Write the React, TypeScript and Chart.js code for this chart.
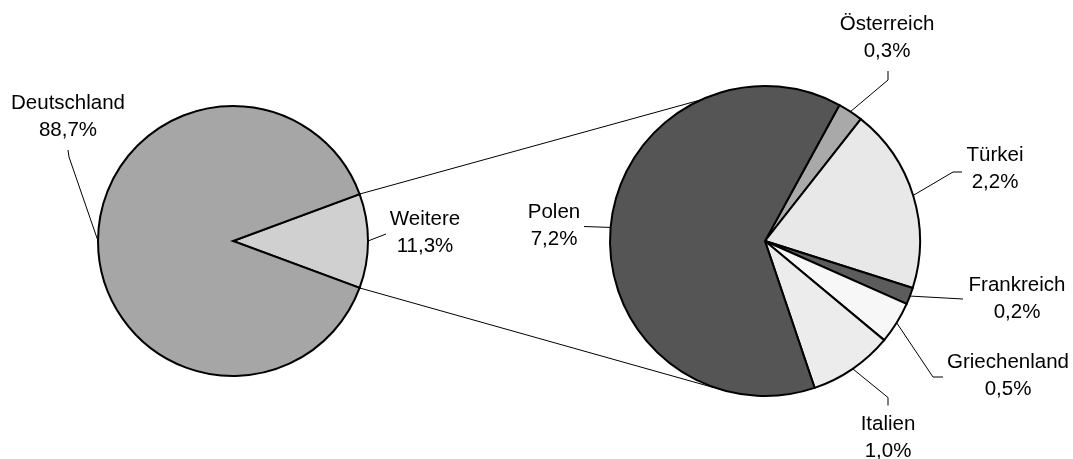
import React, { useEffect, useRef } from "react";
import { Chart, registerables } from "chart.js";

Chart.register(...registerables);

// ---------- data ----------
const mainCategories = ["Weitere", "Deutschland"];
const mainValues = [11.3, 88.7];
const detailCategories = ["Österreich", "Türkei", "Frankreich", "Griechenland", "Italien", "Polen"];
const detailValues = [0.3, 2.2, 0.2, 0.5, 1.0, 7.2];

// ---------- style ----------
const mainColors = ["#d0d0d0", "#a6a6a6"];
const detailColors = ["#a9a9a9", "#e8e8e8", "#5c5c5c", "#f7f7f7", "#ececec", "#555555"];

const W = 1073;
const H = 459;
const MAIN = { cx: 233, cy: 241, r: 135 };
const DETAIL = { cx: 765, cy: 241, r: 155, rotation: 28.7 };
const CONNECTOR_ANGLES = [-114.4, 104.7];
const FONT = '20.5px "Liberation Sans", Arial, sans-serif';
const LINE_GAP = 27;

type LabelLayout = { dx: number; dy: number; path: number[][] };
const mainLabelLayout: Record<string, LabelLayout> = {
  Deutschland: { dx: -165, dy: -124.5, path: [[1, 40.5], [0, 33.5]] },
  Weitere: { dx: 192, dy: -8.5, path: [[-39, 1.5]] },
};
const detailLabelLayout: Record<string, LabelLayout> = {
  "Österreich": { dx: 122, dy: -203, path: [[1, 42], [1, 33]] },
  "Türkei": { dx: 230, dy: -72, path: [[-42, 3], [-33, 3]] },
  Frankreich: { dx: 252, dy: 58, path: [[-54, 0]] },
  Griechenland: { dx: 243, dy: 135, path: [[-75, 1], [-65, 1]] },
  Italien: { dx: 123, dy: 196.5, path: [[0, -40], [0, -32]] },
  Polen: { dx: -211, dy: -15, path: [[30, 0.5]] },
};

const fmt = (v: number) => v.toFixed(1).replace(".", ",") + "%";

function makeLabelPlugin(layout: Record<string, LabelLayout>) {
  return {
    id: "pieLabels",
    afterDatasetsDraw(chart: any) {
      const ctx = chart.ctx as CanvasRenderingContext2D;
      const meta = chart.getDatasetMeta(0);
      const labels = chart.data.labels as string[];
      const values = chart.data.datasets[0].data as number[];
      meta.data.forEach((arc: any, i: number) => {
        const p = arc.getProps(["x", "y", "startAngle", "endAngle", "outerRadius"], true);
        const mid = (p.startAngle + p.endAngle) / 2;
        const ex = p.x + p.outerRadius * Math.cos(mid);
        const ey = p.y + p.outerRadius * Math.sin(mid);
        const L = layout[labels[i]];
        if (!L) return;
        const lx = p.x + L.dx;
        const ly = p.y + L.dy;
        ctx.save();
        ctx.strokeStyle = "#000";
        ctx.lineWidth = 1;
        ctx.beginPath();
        ctx.moveTo(ex, ey);
        L.path.forEach((pt) => ctx.lineTo(lx + pt[0], ly + pt[1]));
        ctx.stroke();
        ctx.fillStyle = "#000";
        ctx.font = FONT;
        ctx.textAlign = "center";
        ctx.textBaseline = "middle";
        ctx.fillText(labels[i], lx, ly - LINE_GAP / 2);
        ctx.fillText(fmt(values[i]), lx, ly + LINE_GAP / 2);
        ctx.restore();
      });
    },
  };
}

export default function App() {
  const mainRef = useRef<HTMLCanvasElement>(null);
  const detailRef = useRef<HTMLCanvasElement>(null);

  useEffect(() => {
    const mainTotal = mainValues.reduce((a, b) => a + b, 0);
    const mainRotation = 90 - (mainValues[0] / mainTotal) * 180;

    const mainChart = new Chart(mainRef.current as HTMLCanvasElement, {
      type: "pie",
      data: {
        labels: mainCategories,
        datasets: [
          {
            data: mainValues,
            backgroundColor: mainColors,
            borderColor: "#000",
            borderWidth: 2,
            borderJoinStyle: "miter" as any,
            hoverOffset: 0,
          },
        ],
      },
      options: {
        responsive: false,
        animation: false,
        events: [],
        rotation: mainRotation,
        radius: MAIN.r,
        layout: { padding: { left: 0, right: W - 2 * MAIN.cx, top: 2 * MAIN.cy - H, bottom: 0 } },
        plugins: { legend: { display: false }, tooltip: { enabled: false } },
      } as any,
      plugins: [makeLabelPlugin(mainLabelLayout)],
    });

    const connectorPlugin = {
      id: "connectors",
      beforeDatasetsDraw(chart: any) {
        const ctx = chart.ctx as CanvasRenderingContext2D;
        const src = mainChart.getDatasetMeta(0).data[0] as any;
        const s = src.getProps(["x", "y", "startAngle", "endAngle", "outerRadius"], true);
        const dst = chart.getDatasetMeta(0).data[0] as any;
        const d = dst.getProps(["x", "y", "outerRadius"], true);
        const ends = [s.startAngle, s.endAngle];
        ctx.save();
        ctx.strokeStyle = "#000";
        ctx.lineWidth = 1;
        ends.forEach((a: number, k: number) => {
          const b = (CONNECTOR_ANGLES[k] * Math.PI) / 180;
          ctx.beginPath();
          ctx.moveTo(s.x + s.outerRadius * Math.cos(a), s.y + s.outerRadius * Math.sin(a));
          ctx.lineTo(d.x + d.outerRadius * Math.cos(b), d.y + d.outerRadius * Math.sin(b));
          ctx.stroke();
        });
        ctx.restore();
      },
    };

    const detailChart = new Chart(detailRef.current as HTMLCanvasElement, {
      type: "pie",
      data: {
        labels: detailCategories,
        datasets: [
          {
            data: detailValues,
            backgroundColor: detailColors,
            borderColor: "#000",
            borderWidth: 2,
            borderJoinStyle: "miter" as any,
            hoverOffset: 0,
          },
        ],
      },
      options: {
        responsive: false,
        animation: false,
        events: [],
        rotation: DETAIL.rotation,
        radius: DETAIL.r,
        layout: { padding: { left: 2 * DETAIL.cx - W, right: 0, top: 2 * DETAIL.cy - H, bottom: 0 } },
        plugins: { legend: { display: false }, tooltip: { enabled: false } },
      } as any,
      plugins: [connectorPlugin, makeLabelPlugin(detailLabelLayout)],
    });

    return () => {
      detailChart.destroy();
      mainChart.destroy();
    };
  }, []);

  const canvasStyle: React.CSSProperties = {
    position: "absolute",
    left: 0,
    top: 0,
    width: W,
    height: H,
  };

  return (
    <div style={{ position: "fixed", left: 0, top: 0, width: W, height: H, background: "#fff" }}>
      <canvas ref={mainRef} width={W} height={H} style={canvasStyle} />
      <canvas ref={detailRef} width={W} height={H} style={canvasStyle} />
    </div>
  );
}
